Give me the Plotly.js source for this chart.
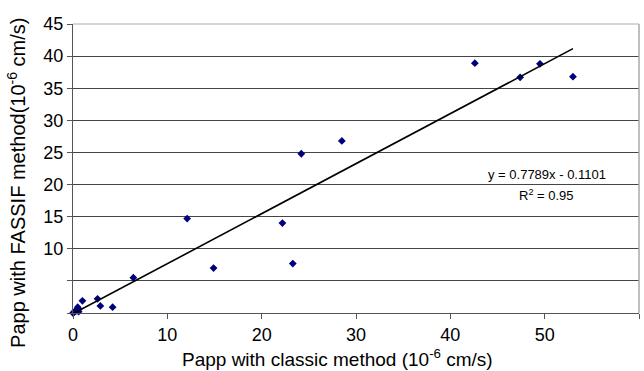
<!DOCTYPE html>
<html><head><meta charset="utf-8">
<script src="https://cdn.plot.ly/plotly-3.0.1.min.js"></script>
<style>html,body{margin:0;padding:0;background:#fff}</style>
</head><body><div id="chart" style="width:644px;height:371px"></div>
<script>
// Papp classic method (x) vs Papp FASSIF method (y), 10^-6 cm/s
const classicX = [0.0, 0.1, 0.2, 0.3, 0.4, 0.5, 0.6, 0.6, 1.0, 2.6, 2.9, 4.2, 6.4, 12.1, 14.9, 22.2, 23.3, 24.2, 28.5, 42.6, 47.4, 49.5, 53.0];
const fassifY  = [0.0, 0.1, 0.2, 0.3, 0.5, 0.9, 0.2, 0.6, 1.9, 2.2, 1.1, 0.9, 5.5, 14.7, 7.0, 14.0, 7.7, 24.8, 26.8, 38.9, 36.7, 38.8, 36.8];
const slope = 0.7789, intercept = -0.1101, r2 = 0.95;
const yTickVals = [10,15,20,25,30,35,40,45];
const xTickVals = [0,10,20,30,40,50,60];
const xTitle = 'Papp with classic method (10<sup>-6</sup> cm/s)';
const yTitle = 'Papp with FASSIF method(10<sup>-6</sup> cm/s)';

const xMin = Math.min(...classicX), xMax = Math.max(...classicX);
const fitX = [xMin, xMax];
const fitY = fitX.map(v => slope*v + intercept);

const font = 'Arial, "Liberation Sans", sans-serif';
const data = [
  {x: classicX, y: fassifY, type:'scatter', mode:'markers',
   marker:{symbol:'diamond', color:'#00007f', size:6}, cliponaxis:false},
  {x: fitX, y: fitY, type:'scatter', mode:'lines', line:{color:'#000', width:1.6}, cliponaxis:false}
];
const layout = {
  width:644, height:371, showlegend:false,
  margin:{l:73, r:5, t:24, b:58},
  paper_bgcolor:'#fff', plot_bgcolor:'#fff',
  font:{family:font, color:'#000'},
  xaxis:{range:[0,60], tickvals:xTickVals, ticks:'outside', ticklen:5, tickcolor:'#555',
    showgrid:false, zeroline:false, showline:true, linecolor:'#555', linewidth:1.2,
    tickfont:{size:18}},
  yaxis:{range:[0,45], tickvals:yTickVals, ticks:'outside', ticklen:5, tickcolor:'#555',
    showgrid:true, gridcolor:'#444', gridwidth:1, zeroline:false, showline:true, linecolor:'#555', linewidth:1.2,
    minor:{tick0:0, dtick:5, showgrid:true, gridcolor:'#444', gridwidth:1, ticks:'outside', ticklen:5, tickcolor:'#555'},
    tickfont:{size:18}},
  shapes:[
    {type:'line', xref:'paper', yref:'paper', x0:0, x1:1, y0:1, y1:1, line:{color:'#c8c8c8', width:1.5}, layer:'above'},
    {type:'line', xref:'paper', yref:'paper', x0:1, x1:1, y0:0, y1:1, line:{color:'#aaa', width:1.5}, layer:'above'}
  ],
  annotations:[
    {xref:'x', yref:'y', x:50.2, y:21.6, text:'y = 0.7789x - 0.1101', showarrow:false, font:{size:13}},
    {xref:'x', yref:'y', x:50.2, y:18.4, text:'R<sup>2</sup> = ' + r2.toFixed(2), showarrow:false, font:{size:13}},
    {xref:'paper', yref:'paper', x:0.468, y:-0.156, text:xTitle, showarrow:false, font:{size:19}, xanchor:'center', yanchor:'middle'},
    {xref:'paper', yref:'paper', x:-0.099, y:0.45, text:yTitle, showarrow:false, font:{size:20}, textangle:-90, xanchor:'center', yanchor:'middle'}
  ]
};
Plotly.newPlot('chart', data, layout, {displayModeBar:false, staticPlot:true});
</script></body></html>
